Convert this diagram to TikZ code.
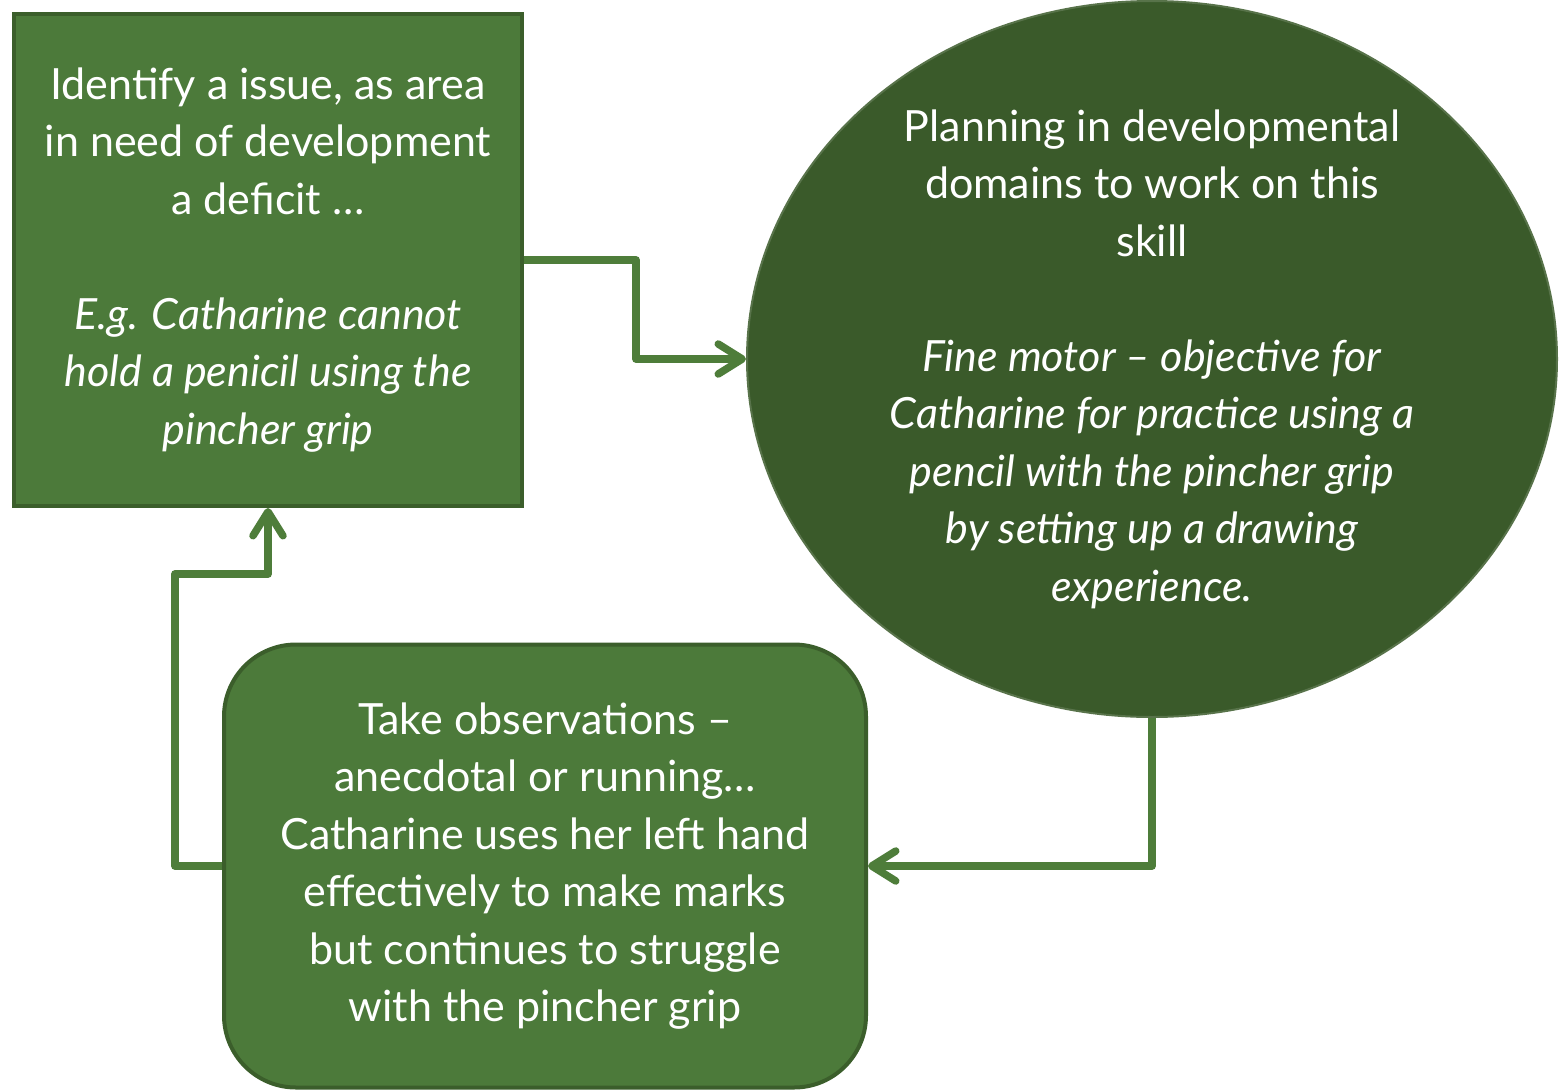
\documentclass[tikz,border=0pt]{standalone}
\usepackage{fontspec}
\setmainfont{Lato}
\usetikzlibrary{arrows.meta,shapes.geometric}
\definecolor{leaf}{HTML}{4C7A3A}
\definecolor{leafdark}{HTML}{3B5E2B}
\definecolor{forest}{HTML}{3A5A2A}
\definecolor{stem}{HTML}{4E7D3A}
\begin{document}
\begin{tikzpicture}[
                x=1pt, y=-1pt,
                every node/.style={text=white, align=center, inner sep=0pt,
                    font=\fontsize{43}{57.5}\selectfont},
                box/.style={rectangle, fill=leaf, draw=leafdark, line width=4pt,
                    minimum width=508pt, minimum height=492pt},
                oval/.style={ellipse, fill=forest, draw=forest!85!white, line width=2pt,
                    inner sep=-6pt, minimum width=810pt, minimum height=716pt},
                roundbox/.style={rectangle, rounded corners=72pt, fill=leaf, draw=leafdark,
                    line width=4pt, minimum width=642pt, minimum height=443pt},
                link/.style={draw=stem, line width=7.5pt, line join=round,
                    -{Straight Barb[length=24pt, width=30pt, round]}},
            ]
            \useasboundingbox (0,0) rectangle (1559,1090);
            \node[box] (issue) at (268,260)
                {Identify a issue, as area\\ in need of development\\ a deficit …\\[57.5pt]
                 \textit{E.g. Catharine cannot}\\ \textit{hold a penicil using the}\\
                 \textit{pincher grip}};
            \node[oval] (plan) at (1152,359)
                {Planning in developmental\\ domains to work on this\\ skill\\[57.5pt]
                 \textit{Fine motor – objective for}\\ \textit{Catharine for practice using a}\\
                 \textit{pencil with the pincher grip}\\ \textit{by setting up a drawing}\\
                 \textit{experience.}};
            \node[roundbox] (observe) at (545,866)
                {Take observations –\\ anecdotal or running…\\ Catharine uses her left hand\\
                 effectively to make marks\\ but continues to struggle\\ with the pincher grip};
            \draw[link] (issue.east) -- ++(112,0) |- (plan.west);
            \draw[link] (plan.south) |- (observe.east);
            \draw[link] (observe.west) -| ++(-47,-292) -| (issue.south);
\end{tikzpicture}
\end{document}
